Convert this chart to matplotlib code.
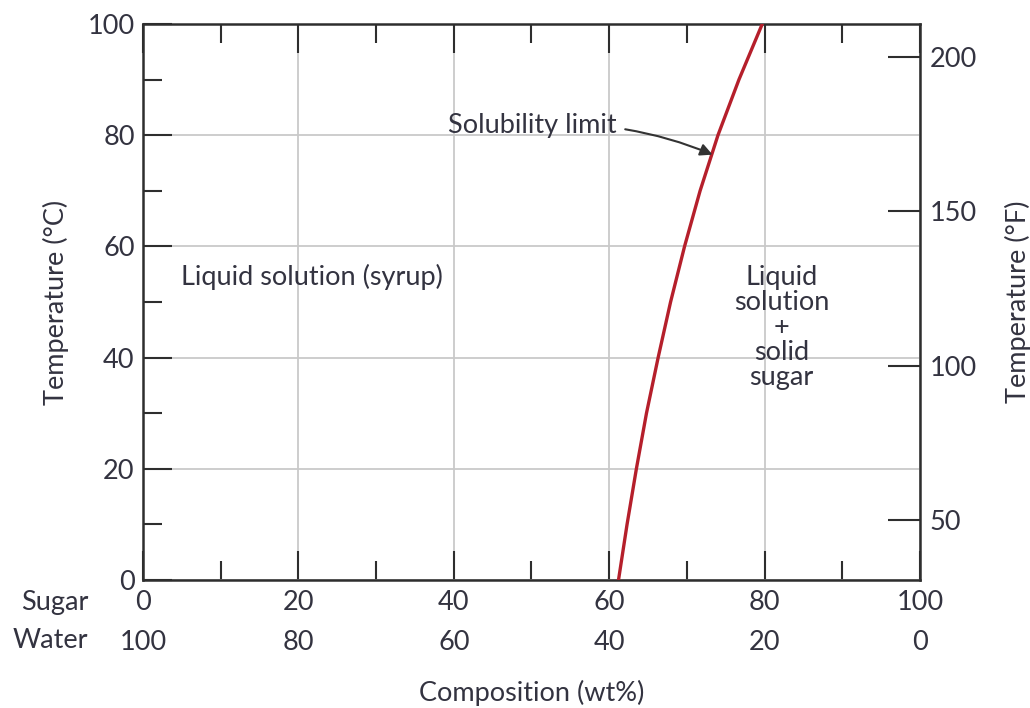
import matplotlib.pyplot as plt

plt.rcParams['font.family'] = ['Lato', 'DejaVu Sans']

# solubility limit of sugar in water
temp_c = [0, 10, 20, 30, 40, 50, 60, 70, 80, 90, 100]
sugar_wt = [61.2, 62.3, 63.5, 64.8, 66.3, 67.9, 69.7, 71.7, 74.0, 76.7, 79.7]

sugar_ticks = [0, 20, 40, 60, 80, 100]
water_ticks = [100, 80, 60, 40, 20, 0]
temp_ticks = [0, 20, 40, 60, 80, 100]
temp_f_ticks = [50, 100, 150, 200]

txt = '#333340'
spine = '#2e2e2e'
fs = 19.5

fig = plt.figure(figsize=(10.3, 7.08), dpi=100)
ax = fig.add_axes([0.1388, 0.1808, 0.7544, 0.7853])

ax.plot(sugar_wt, temp_c, color='#b51f2b', linewidth=2.4, zorder=3)

ax.set_xlim(0, 100)
ax.set_ylim(0, 100)
ax.set_xticks(sugar_ticks)
ax.set_xticks(range(10, 100, 20), minor=True)
ax.set_yticks(temp_ticks)
ax.set_yticks(range(10, 100, 20), minor=True)
ax.grid(True, which='major', color='#c9c9c9', linewidth=1.3)
ax.tick_params(axis='both', which='major', direction='in', length=21, width=1.5,
               color=spine, labelsize=fs, labelcolor=txt, top=True)
ax.tick_params(axis='both', which='minor', direction='in', length=13.5, width=1.5,
               color=spine, top=True)
ax.tick_params(axis='y', which='major', pad=6)
ax.tick_params(axis='x', which='major', pad=7)
for s in ax.spines.values():
    s.set_color(spine)
    s.set_linewidth(1.8)

# water row below the sugar row
sec = ax.secondary_xaxis(-0.09, functions=(lambda x: 100 - x, lambda x: 100 - x))
sec.set_xticks(water_ticks)
sec.tick_params(length=0, labelsize=fs, labelcolor=txt, pad=0)
sec.spines['bottom'].set_visible(False)

ax.text(-0.07, -0.04, 'Sugar', transform=ax.transAxes, ha='right', va='center',
        fontsize=fs, color=txt)
ax.text(-0.07, -0.108, 'Water', transform=ax.transAxes, ha='right', va='center',
        fontsize=fs, color=txt)

ax.set_ylabel('Temperature (°C)', fontsize=fs, color=txt, labelpad=13)
ax.text(0.5, -0.203, 'Composition (wt%)', transform=ax.transAxes, ha='center',
        va='center', fontsize=fs, color=txt)

# Fahrenheit axis (the printed scale sits a touch higher than exact conversion)
ax2 = ax.twinx()
ax2.set_ylim(30.7, 210.7)
ax2.set_yticks(temp_f_ticks)
ax2.tick_params(axis='y', direction='in', length=23, width=1.5, color=spine,
                labelsize=fs, labelcolor=txt, pad=7)
ax2.set_ylabel('Temperature (°F)', fontsize=fs, color=txt, rotation=90, labelpad=20)
for s in ax2.spines.values():
    s.set_visible(False)

ax.text(21.8, 54.5, 'Liquid solution (syrup)', ha='center', va='center',
        fontsize=fs, color=txt)
ax.text(82.2, 45.5, 'Liquid\nsolution\n+\nsolid\nsugar', ha='center', va='center',
        fontsize=fs, color=txt, linespacing=1.0)
ax.annotate('Solubility limit', xy=(73.3, 76.5), xytext=(61, 81.8),
            fontsize=fs, color=txt, ha='right', va='center',
            arrowprops=dict(arrowstyle='-|>', color='#333333', lw=1.5,
                            mutation_scale=18, shrinkA=4, shrinkB=0,
                            connectionstyle='arc3,rad=-0.12'))

fig.savefig('out.png', dpi=100)
